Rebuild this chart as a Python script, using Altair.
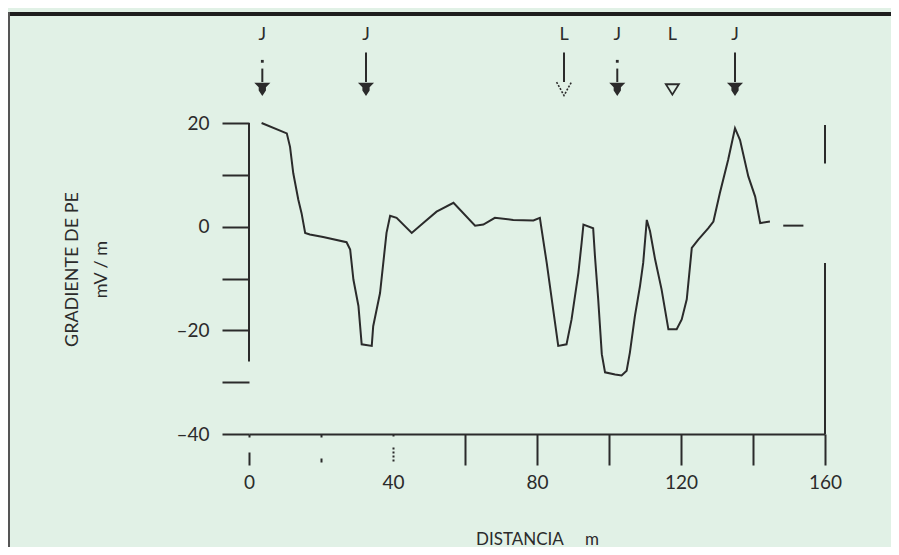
import altair as alt
import pandas as pd

# ---- data ----
dist = [3.5, 10.5, 11.4, 12.3, 13.7, 14.6, 15.6, 16.9, 20.6, 27.1, 28.1, 29.0, 30.4, 31.3,
        34.1, 34.5, 36.4, 38.2, 39.2, 41.0, 45.2, 48.4, 52.1, 56.8, 62.8, 65.1, 68.3,
        73.4, 79.0, 80.8, 81.3, 82.7, 84.5, 85.9, 88.2, 89.6, 91.5, 92.4, 92.9, 95.6,
        96.1, 97.0, 98.0, 98.9, 101.7, 103.5, 104.9, 105.8, 107.2, 108.6, 109.5, 110.5,
        111.4, 112.8, 114.6, 116.5, 118.8, 120.2, 121.6, 123.0, 124.8, 127.6, 129.0,
        130.8, 133.1, 135.0, 136.4, 138.7, 140.6, 142.0, 144.7, 148.4, 154.0]
grad = [20.0, 18.0, 15.4, 10.3, 5.2, 2.6, -1.2, -1.5, -2.0, -3.0, -4.4, -10.2, -15.3, -22.7,
        -23.0, -19.2, -12.8, -1.2, 2.1, 1.7, -1.2, 0.7, 2.9, 4.6, 0.2, 0.4, 1.7,
        1.3, 1.2, 1.7, -0.6, -7.0, -16.0, -23.0, -22.7, -17.9, -8.9, -3.1, 0.4, -0.3,
        -5.7, -14.0, -24.6, -28.1, -28.5, -28.7, -27.8, -24.3, -17.2, -11.5, -7.0, 1.3,
        -0.9, -6.3, -12.1, -19.8, -19.8, -17.9, -14.0, -4.1, -2.5, -0.3, 1.0,
        6.5, 12.9, 19.0, 16.7, 9.7, 5.8, 0.7, 1.0, 0.2, 0.2]
segment = [0] * 71 + [1] * 2

arrow_dist = [3.7, 32.5, 87.5, 102.3, 117.6, 135.0]
arrow_label = ["J", "J", "L", "J", "L", "J"]
arrow_kind = ["dotted", "full", "hollow", "dotted", "head", "full"]

x_ticks = [0, 20, 40, 60, 80, 100, 120, 140, 160]
y_ticks = [-40, -30, -20, -10, 0, 10, 20]
y_axis_line = [(20, -26)]            # left axis line (broken below -26)
right_lines = [(19.6, 12.2), (-7.0, -40)]  # right frame pieces at x = 160

x_title = "DISTANCIA\u00a0\u00a0\u00a0\u00a0\u00a0m"
y_title = ["GRADIENTE DE PE", "mV / m"]

# ---- styling constants ----
BG = "#e1f1e6"
INK = "#2b2b2b"
FONT = "Lato, 'Open Sans', sans-serif"
LABEL_Y, SHAFT_TOP, DOT_Y, DOTTED_TOP, SHAFT_BOT, HEAD_Y = 36.9, 33.6, 31.9, 30.5, 27.9, 26.6

xs = alt.Scale(domain=[0, 160], nice=False, zero=False)
ys = alt.Scale(domain=[-40, 20], nice=False, zero=False)

line_df = pd.DataFrame({"d": dist, "g": grad, "seg": segment})

x_axis = alt.Axis(
    values=x_ticks, title=x_title, grid=False, labelFlush=False, labelOverlap=False,
    domainColor=INK, domainWidth=2, tickColor=INK, tickWidth=2, tickSize=31,
    tickDash={"condition": [
        {"test": "datum.value == 0", "value": [3, 15, 13]},
        {"test": "datum.value == 20", "value": [3, 21, 4, 20]},
        {"test": "datum.value == 40", "value": [2, 11, 2, 2, 2, 2, 2, 2, 2, 40]},
    ], "value": [1, 0]},
    labelExpr="datum.value % 40 == 0 ? datum.label : ''",
    labelFont=FONT, labelFontSize=19, labelColor=INK, labelPadding=8,
    titleFont=FONT, titleFontSize=17, titleFontWeight="normal", titleColor=INK,
    titleY=105, titleBaseline="middle",
)
y_axis = alt.Axis(
    values=y_ticks, title=y_title, grid=False, domain=False,
    labelFlush=False, labelOverlap=False,
    tickColor=INK, tickWidth=2, tickSize=27,
    labelExpr="datum.value % 20 == 0 ? (datum.value < 0 ? '–' + abs(datum.value) : datum.label) : ''",
    labelFont=FONT, labelFontSize=19, labelColor=INK, labelPadding=13,
    titleFont=FONT, titleFontSize=18, titleFontWeight="normal", titleColor=INK,
    titleLineHeight=29, titleX=-168, titleY=146, titleAngle=-90, titleBaseline="bottom",
)

line = alt.Chart(line_df).mark_line(color=INK, strokeWidth=2).encode(
    x=alt.X("d:Q", scale=xs, axis=x_axis),
    y=alt.Y("g:Q", scale=ys, axis=y_axis),
    detail="seg:N",
)

yl_df = pd.DataFrame({"x": [0] * len(y_axis_line), "y1": [a for a, b in y_axis_line],
                      "y2": [b for a, b in y_axis_line]})
y_line = alt.Chart(yl_df).mark_rule(color=INK, strokeWidth=2).encode(
    x=alt.X("x:Q", scale=xs), y=alt.Y("y1:Q", scale=ys), y2="y2:Q")

rl_df = pd.DataFrame({"x": [160] * len(right_lines), "y1": [a for a, b in right_lines],
                      "y2": [b for a, b in right_lines]})
r_line = alt.Chart(rl_df).mark_rule(color=INK, strokeWidth=2).encode(
    x=alt.X("x:Q", scale=xs), y=alt.Y("y1:Q", scale=ys), y2="y2:Q")

# arrows
arr = pd.DataFrame({"d": arrow_dist, "lab": arrow_label, "kind": arrow_kind})
arr["ly"] = LABEL_Y
arr["top"] = arr["kind"].map({"full": SHAFT_TOP, "hollow": SHAFT_TOP, "dotted": DOTTED_TOP, "head": None})
arr["bot"] = SHAFT_BOT
arr["dot"] = DOT_Y
arr["hy"] = HEAD_Y

labels = alt.Chart(arr).mark_text(font=FONT, fontSize=18, color=INK, baseline="middle").encode(
    x=alt.X("d:Q", scale=xs), y=alt.Y("ly:Q", scale=ys), text="lab:N")

shafts = alt.Chart(arr).transform_filter("datum.kind != 'head'").mark_rule(
    color=INK, strokeWidth=2).encode(
    x=alt.X("d:Q", scale=xs), y=alt.Y("top:Q", scale=ys), y2="bot:Q")

dots = alt.Chart(arr).transform_filter("datum.kind == 'dotted'").mark_point(
    shape="square", size=8, filled=True, color=INK, opacity=1).encode(
    x=alt.X("d:Q", scale=xs), y=alt.Y("dot:Q", scale=ys))

heads_full = alt.Chart(arr).transform_filter("datum.lab == 'J'").mark_point(
    shape="M -1 -0.75 L 1 -0.75 L 0.45 -0.2 L 0.45 0.2 L 0 0.9 L -0.45 0.2 L -0.45 -0.2 Z",
    size=260, filled=True, color=INK, opacity=1).encode(
    x=alt.X("d:Q", scale=xs), y=alt.Y("hy:Q", scale=ys))

heads_open = alt.Chart(arr).transform_filter("datum.kind == 'hollow'").mark_point(
    shape="M -1 -0.9 L 0 0.9 L 1 -0.9", size=220, filled=False, color=INK,
    strokeWidth=1.6, strokeDash=[2, 1.5], opacity=1).encode(
    x=alt.X("d:Q", scale=xs), y=alt.Y("hy:Q", scale=ys))

heads_small = alt.Chart(arr).transform_filter("datum.kind == 'head'").mark_point(
    shape="M -1 -0.7 L 1 -0.7 L 0 0.9 Z", size=170, filled=False, color=INK,
    strokeWidth=1.8, opacity=1).encode(
    x=alt.X("d:Q", scale=xs), y=alt.Y("hy:Q", scale=ys))

# frame decorations (top black bar and left border of the figure box)
top_bar = alt.Chart(pd.DataFrame({"k": [0]})).mark_rule(color="#1e1e1e", strokeWidth=4).encode(
    x=alt.value(-241), x2=alt.value(645), y=alt.value(-109))
left_border = alt.Chart(pd.DataFrame({"k": [0]})).mark_rule(color="#555555", strokeWidth=2).encode(
    x=alt.value(-240), y=alt.value(-111), y2=alt.value(440))

chart = alt.layer(
    top_bar, left_border, y_line, r_line, line, labels, shafts, dots,
    heads_full, heads_open, heads_small,
).properties(
    width=576, height=311,
    autosize=alt.AutoSizeParams(type="none"),
    padding={"left": 241, "top": 115, "right": 66, "bottom": 113},
    background=BG,
).configure_view(stroke=None, fill=BG)

chart.save("out.html", embed_options={"renderer": "svg", "actions": False})
